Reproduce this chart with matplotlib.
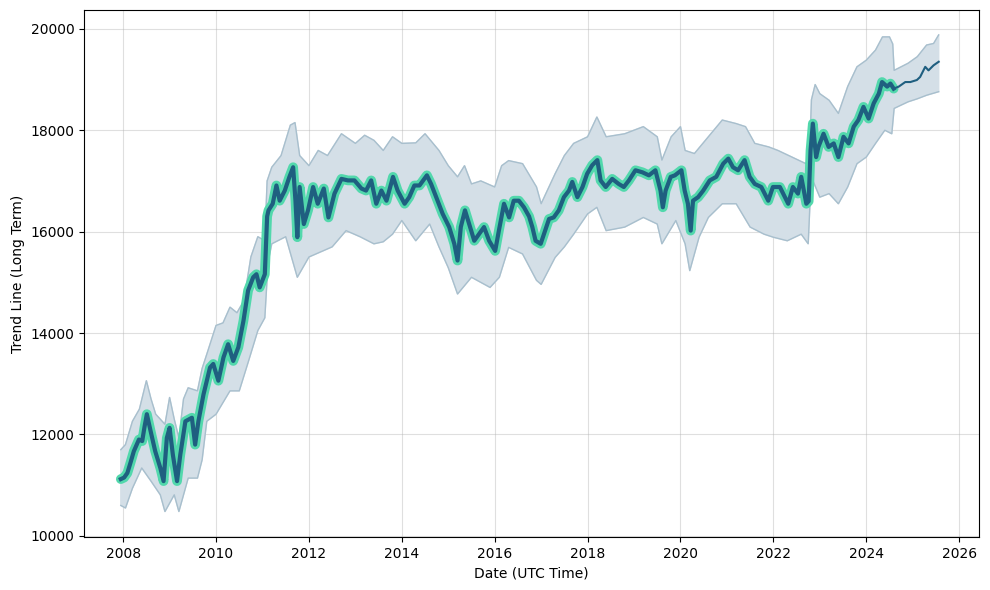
import numpy as np
import matplotlib
matplotlib.use('Agg')
import matplotlib.pyplot as plt

# trend (decimal years)
hist_dates = [2007.95, 2008.02, 2008.09, 2008.16, 2008.23, 2008.34, 2008.41, 2008.46, 2008.51, 2008.59,
              2008.69, 2008.80, 2008.87, 2008.94, 2009.00, 2009.07, 2009.16, 2009.23, 2009.34, 2009.48,
              2009.55, 2009.62, 2009.73, 2009.87, 2009.94, 2010.05, 2010.16, 2010.26, 2010.37, 2010.48,
              2010.59, 2010.69, 2010.80, 2010.87, 2010.94, 2011.05, 2011.10, 2011.13, 2011.22, 2011.30,
              2011.37, 2011.48, 2011.58, 2011.66, 2011.71, 2011.75, 2011.80, 2011.89, 2011.98, 2012.09,
              2012.19, 2012.32, 2012.42, 2012.55, 2012.70, 2012.84, 2012.98, 2013.13, 2013.23, 2013.34,
              2013.45, 2013.56, 2013.67, 2013.81, 2013.91, 2014.06, 2014.16, 2014.27, 2014.38, 2014.54,
              2014.63, 2014.74, 2014.88, 2015.02, 2015.13, 2015.20, 2015.27, 2015.36, 2015.45, 2015.56,
              2015.66, 2015.77, 2015.88, 2016.01, 2016.09, 2016.20, 2016.31, 2016.41, 2016.52, 2016.63,
              2016.74, 2016.81, 2016.88, 2016.99, 2017.06, 2017.17, 2017.27, 2017.38, 2017.49, 2017.60,
              2017.67, 2017.78, 2017.89, 2017.99, 2018.10, 2018.21, 2018.28, 2018.39, 2018.53, 2018.67,
              2018.78, 2018.89, 2019.03, 2019.18, 2019.32, 2019.46, 2019.57, 2019.62, 2019.68, 2019.79,
              2019.88, 2020.02, 2020.09, 2020.16, 2020.22, 2020.27, 2020.38, 2020.49, 2020.63, 2020.77,
              2020.92, 2021.03, 2021.13, 2021.24, 2021.38, 2021.49, 2021.60, 2021.74, 2021.89, 2021.99,
              2022.14, 2022.32, 2022.42, 2022.53, 2022.60, 2022.71, 2022.76, 2022.80, 2022.85, 2022.92,
              2022.97, 2023.08, 2023.19, 2023.30, 2023.40, 2023.51, 2023.62, 2023.73, 2023.83, 2023.94,
              2024.05, 2024.16, 2024.27, 2024.34, 2024.45, 2024.52, 2024.59]
hist_trend = [11120, 11150, 11240, 11450, 11670, 11900, 11870, 12150, 12400, 12070,
              11670, 11340, 11080, 11930, 12130, 11600, 11080, 11600, 12260, 12330,
              11800, 12260, 12790, 13320, 13390, 13060, 13520, 13780, 13450, 13720,
              14240, 14840, 15100, 15160, 14900, 15160, 16300, 16420, 16550, 16910,
              16610, 16810, 17080, 17270, 16610, 15890, 16880, 16150, 16420, 16880,
              16550, 16850, 16280, 16750, 17040, 17010, 17010, 16850, 16810, 17010,
              16550, 16810, 16610, 17080, 16810, 16550, 16680, 16910, 16910, 17110,
              16940, 16680, 16350, 16090, 15760, 15430, 16090, 16420, 16150, 15820,
              15950, 16090, 15820, 15620, 16020, 16550, 16280, 16610, 16610, 16480,
              16300, 16090, 15820, 15760, 15950, 16250, 16280, 16420, 16680, 16810,
              16980, 16680, 16880, 17140, 17310, 17410, 17010, 16880, 17040, 16940,
              16880, 17010, 17210, 17170, 17110, 17210, 16810, 16480, 16810, 17080,
              17110, 17210, 16810, 16550, 16020, 16610, 16680, 16810, 17010, 17080,
              17340, 17440, 17270, 17210, 17410, 17080, 16940, 16880, 16610, 16880,
              16880, 16550, 16880, 16750, 17080, 16550, 16600, 17600, 18130, 17470,
              17670, 17930, 17670, 17740, 17470, 17870, 17740, 18070, 18200, 18460,
              18230, 18530, 18720, 18950, 18860, 18920, 18820]

fc_dates = [2024.59, 2024.70, 2024.84, 2024.95, 2025.09, 2025.16, 2025.27, 2025.34, 2025.45, 2025.56]
fc_trend = [18820, 18860, 18950, 18950, 18990, 19050, 19250, 19180, 19280, 19350]

upper_dates = [2007.95, 2008.05, 2008.2, 2008.35, 2008.5, 2008.6, 2008.7, 2008.9, 2009.0, 2009.1,
               2009.2, 2009.3, 2009.4, 2009.6, 2009.7, 2009.8, 2010.0, 2010.15, 2010.3, 2010.45,
               2010.6, 2010.75, 2010.9, 2011.05, 2011.1, 2011.2, 2011.4, 2011.6, 2011.7, 2011.8,
               2012.0, 2012.2, 2012.4, 2012.7, 2013.0, 2013.2, 2013.4, 2013.6, 2013.8, 2014.0,
               2014.3, 2014.5, 2014.8, 2015.0, 2015.2, 2015.35, 2015.5, 2015.7, 2016.0, 2016.15,
               2016.3, 2016.6, 2016.9, 2017.0, 2017.3, 2017.5, 2017.7, 2018.0, 2018.2, 2018.4,
               2018.6, 2018.8, 2019.0, 2019.2, 2019.5, 2019.6, 2019.8, 2020.0, 2020.1, 2020.3,
               2020.6, 2020.9, 2021.2, 2021.4, 2021.6, 2021.9, 2022.1, 2022.4, 2022.7, 2022.78,
               2022.82, 2022.9, 2023.0, 2023.2, 2023.4, 2023.6, 2023.8, 2024.0, 2024.2, 2024.35,
               2024.5, 2024.57, 2024.6, 2024.9, 2025.1, 2025.3, 2025.45, 2025.56]
upper = [11700, 11800, 12260, 12500, 13060, 12700, 12400, 12200, 12730, 12300,
         11930, 12700, 12920, 12860, 13300, 13580, 14150, 14200, 14510, 14400,
         14640, 15500, 15900, 15820, 17000, 17270, 17500, 18100, 18150, 17500,
         17300, 17600, 17500, 17930, 17740, 17900, 17800, 17600, 17870, 17740,
         17750, 17930, 17600, 17300, 17080, 17300, 16940, 17000, 16880, 17300,
         17400, 17340, 16880, 16550, 17140, 17500, 17740, 17870, 18260, 17870,
         17900, 17930, 18000, 18070, 17870, 17410, 17870, 18070, 17600, 17540,
         17870, 18200, 18130, 18070, 17740, 17670, 17600, 17470, 17340, 17500,
         18600, 18900, 18720, 18590, 18330, 18860, 19250, 19380, 19580, 19840,
         19840, 19700, 19180, 19320, 19450, 19680, 19710, 19880]

lower_dates = [2007.95, 2008.05, 2008.2, 2008.4, 2008.6, 2008.8, 2008.9, 2009.1, 2009.2, 2009.4,
               2009.6, 2009.7, 2009.8, 2010.0, 2010.3, 2010.5, 2010.7, 2010.9, 2011.05, 2011.12,
               2011.2, 2011.5, 2011.75, 2012.0, 2012.3, 2012.5, 2012.8, 2013.1, 2013.4, 2013.6,
               2013.8, 2014.0, 2014.3, 2014.6, 2014.8, 2015.0, 2015.2, 2015.5, 2015.7, 2015.9,
               2016.1, 2016.3, 2016.6, 2016.9, 2017.0, 2017.3, 2017.5, 2017.7, 2018.0, 2018.2,
               2018.4, 2018.8, 2019.2, 2019.5, 2019.6, 2019.9, 2020.1, 2020.2, 2020.4, 2020.6,
               2020.9, 2021.2, 2021.5, 2021.8, 2022.0, 2022.3, 2022.6, 2022.75, 2022.8, 2022.85,
               2023.0, 2023.2, 2023.4, 2023.6, 2023.8, 2024.0, 2024.2, 2024.4, 2024.55, 2024.6,
               2024.9, 2025.1, 2025.3, 2025.56]
lower = [10600, 10550, 10940, 11340, 11080, 10810, 10480, 10810, 10480, 11140,
         11140, 11500, 12260, 12400, 12860, 12860, 13450, 14050, 14300, 15400,
         15760, 15900, 15100, 15500, 15620, 15700, 16020, 15900, 15760, 15800,
         15950, 16220, 15820, 16150, 15700, 15290, 14770, 15100, 15000, 14900,
         15100, 15690, 15560, 15040, 14960, 15490, 15700, 15950, 16350, 16480,
         16020, 16090, 16280, 16150, 15760, 16220, 15760, 15230, 15890, 16280,
         16550, 16550, 16090, 15950, 15890, 15820, 15950, 15760, 16800, 17010,
         16680, 16750, 16550, 16880, 17340, 17470, 17740, 18000, 17930, 18430,
         18560, 18620, 18690, 18760]

fig, ax = plt.subplots(figsize=(9.9, 5.9), dpi=100)
fig.subplots_adjust(left=0.085, right=0.989, top=0.983, bottom=0.09)

# uncertainty band
band_x = np.concatenate([upper_dates, lower_dates[::-1]])
band_y = np.concatenate([upper, lower[::-1]])
ax.fill(band_x, band_y, color='#d4dfe7', zorder=1)
ax.plot(upper_dates, upper, color='#a8bfcd', lw=1, zorder=2)
ax.plot(lower_dates, lower, color='#a8bfcd', lw=1, zorder=2)

# history with halo, then forecast
ax.plot(hist_dates, hist_trend, color='#52d8ac', lw=7, solid_capstyle='round', zorder=3)
ax.plot(hist_dates, hist_trend, color='#1f5f80', lw=3, zorder=4)
ax.plot(fc_dates, fc_trend, color='#1f5f80', lw=1.5, zorder=4)

ax.set_xlim(2007.16, 2026.43)
ax.set_ylim(9980, 20370)
ax.set_xticks(range(2008, 2027, 2))
ax.grid(True, color='#b0b0b0', alpha=0.4, lw=0.8)
ax.set_axisbelow(True)
ax.set_xlabel("Date (UTC Time)")
ax.set_ylabel("Trend Line (Long Term)")

plt.savefig("out.png")
